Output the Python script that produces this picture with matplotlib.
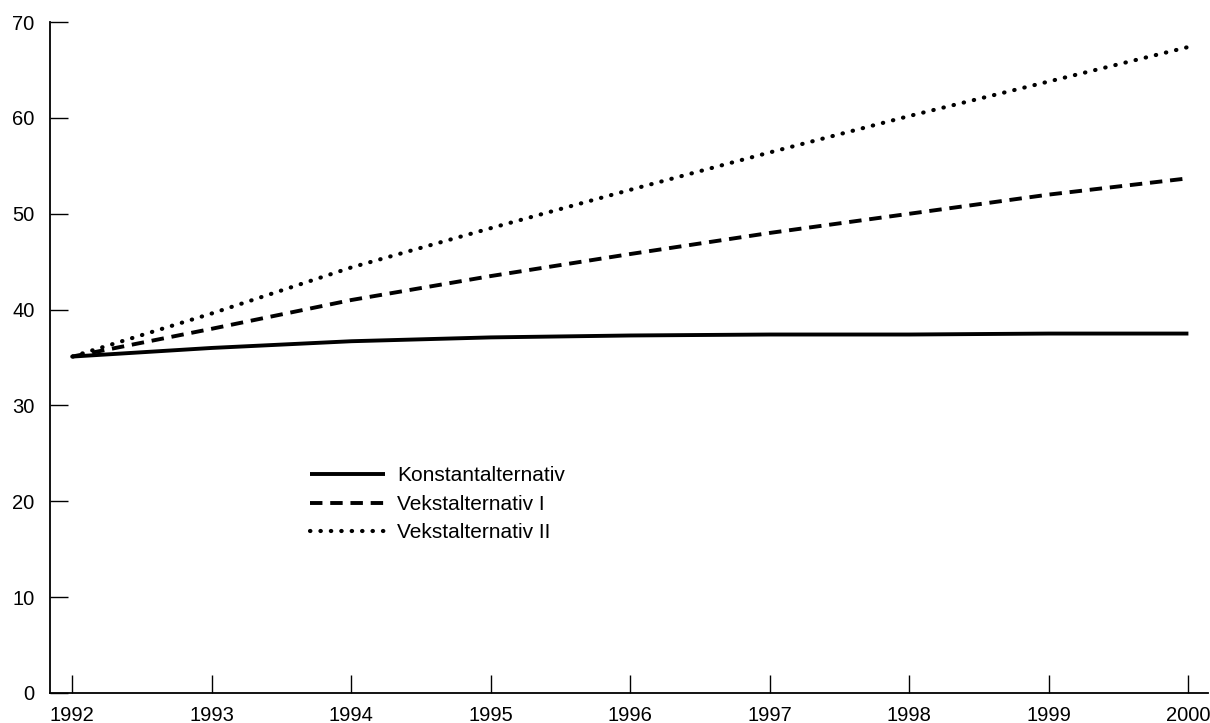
import matplotlib
matplotlib.use("Agg")
import matplotlib.pyplot as plt

years = [1992, 1993, 1994, 1995, 1996, 1997, 1998, 1999, 2000]
konstant = [35.1, 36.0, 36.7, 37.1, 37.3, 37.4, 37.4, 37.5, 37.5]
vekst_1 = [35.1, 38.0, 41.0, 43.5, 45.8, 48.0, 50.0, 52.0, 53.7]
vekst_2 = [35.1, 39.6, 44.4, 48.5, 52.5, 56.4, 60.2, 63.8, 67.4]
y_ticks = [0, 10, 20, 30, 40, 50, 60, 70]

plt.rcParams["font.family"] = ["Liberation Sans", "DejaVu Sans"]

figure = plt.figure(figsize=(12.1, 7.23), dpi=100)
axis = figure.add_axes([0.0413, 0.0415, 0.957, 0.928])

axis.plot(years, konstant, color="black", lw=2.8, ls="-",
          label="Konstantalternativ", solid_capstyle="butt")
axis.plot(years, vekst_1, color="black", lw=2.8, ls=(0, (3.2, 2.0)),
          label="Vekstalternativ I")
axis.plot(years, vekst_2, color="black", lw=3.0, ls=(0, (0.1, 2.4)),
          dash_capstyle="round", label="Vekstalternativ II")

axis.set_xlim(1991.84, 2000.14)
axis.set_ylim(0, 70)
axis.set_xticks(years)
axis.set_yticks(y_ticks)
axis.spines["top"].set_visible(False)
axis.spines["right"].set_visible(False)
for side in ("left", "bottom"):
    axis.spines[side].set_linewidth(1.3)
axis.tick_params(axis="both", direction="in", length=13, width=1.0,
                 labelsize=14.5)
axis.tick_params(axis="x", pad=9.5)
axis.tick_params(axis="y", pad=11)

axis.legend(loc="upper left", bbox_to_anchor=(0.217, 0.35), frameon=False,
            fontsize=15, handlelength=3.6, handletextpad=0.6,
            labelspacing=0.45, borderaxespad=0)

figure.savefig("out.png", dpi=100)
